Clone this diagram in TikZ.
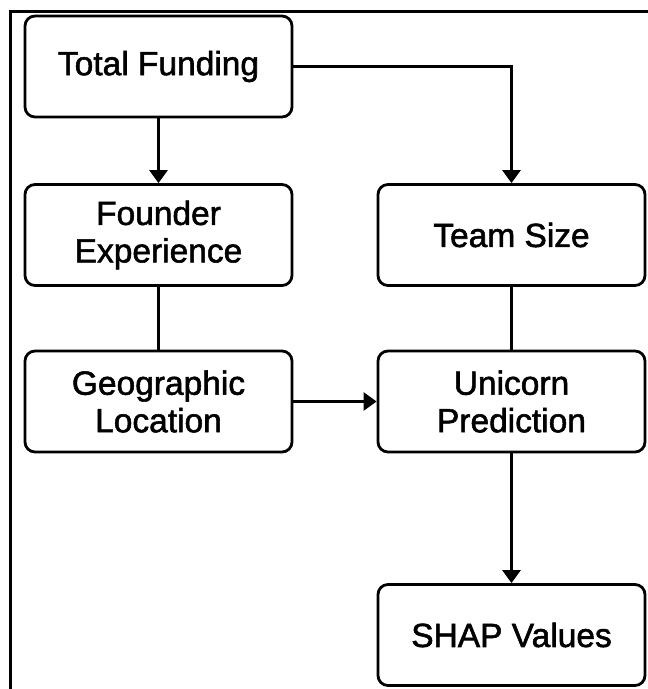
\documentclass[tikz,border=0pt]{standalone}
\usepackage{fontspec}
\setmainfont{Liberation Sans}
\newfontfamily\boxfont{Liberation Sans}[FakeBold=1.6]
\usetikzlibrary{arrows.meta}
\begin{document}
\begin{tikzpicture}[x=1pt,y=-1pt,
  box/.style={draw=black, line width=2.8pt, rounded corners=10pt, fill=white,
    minimum width=267pt, minimum height=101pt, align=center, inner sep=0pt,
    font=\boxfont\fontsize{33.5}{37.5}\selectfont},
  conn/.style={draw=black, line width=2.8pt},
  arr/.style={conn, -{Triangle[width=18pt,length=13pt]}}]
\useasboundingbox (0,0) rectangle (648,689);
\draw[line width=3pt] (10,689) -- (10,11) -- (648,11);
\node[box] (tf) at (158.5,66.5) {Total Funding};
\node[box] (fe) at (158.5,235) {Founder\\Experience};
\node[box] (gl) at (158.5,401.5) {Geographic\\Location};
\node[box] (ts) at (511.5,235) {Team Size};
\node[box] (up) at (511.5,401.5) {Unicorn\\Prediction};
\node[box] (sv) at (511.5,635) {SHAP Values};
\draw[arr] (tf) -- (fe);
\draw[arr] (tf.east) -| (ts.north);
\draw[conn] (fe) -- (gl);
\draw[conn] (ts) -- (up);
\draw[arr] (gl) -- (up);
\draw[arr] (up) -- (sv);
\end{tikzpicture}
\end{document}
